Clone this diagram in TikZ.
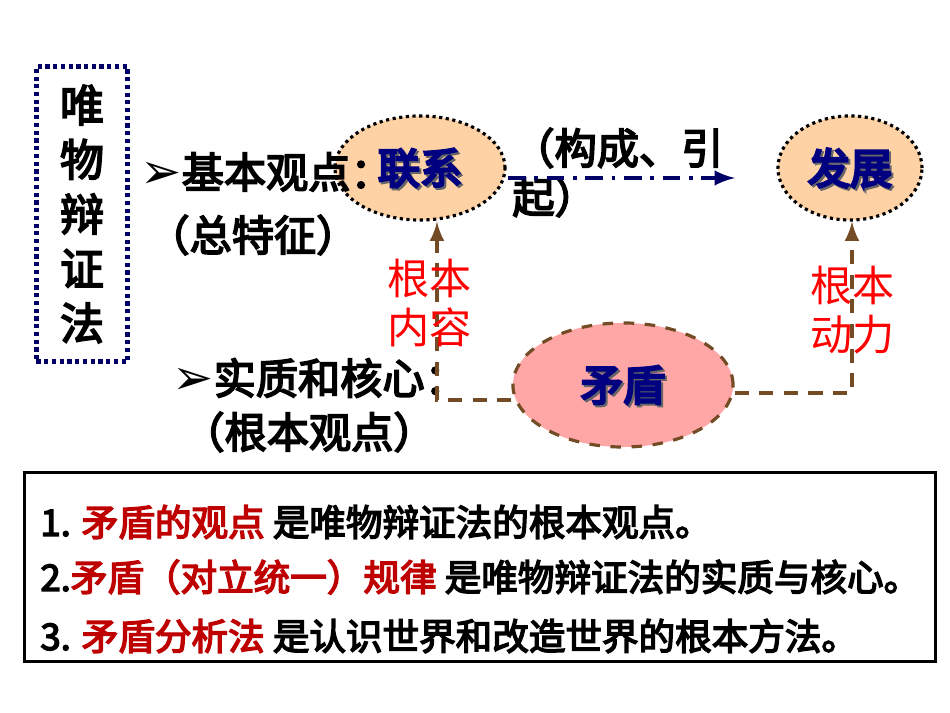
\documentclass[tikz,border=0pt]{standalone}
\usepackage{fontspec}
\setmainfont{Noto Sans CJK SC}
\newfontfamily\cjkb[FakeBold=4]{Noto Sans CJK SC}
\newfontfamily\cjkbb[FakeBold=6]{Noto Sans CJK SC}
\newfontfamily\dvs{DejaVu Sans}
\begin{document}
\begin{tikzpicture}[x=0.01cm,y=-0.01cm,
  peach/.style={ellipse,draw=black,densely dotted,line width=0.9pt,fill=orange!35!white},
  lbl/.style={font=\cjkbb\fontsize{12}{12}\selectfont,text=blue!50!black},
  blk/.style={font=\cjkb\fontsize{12}{13}\selectfont,anchor=west},
  red/.style={font=\fontsize{12}{14}\selectfont,text=red,align=center},
  brown/.style={draw=brown!60!black,dashed,line width=0.9pt,dash pattern=on 4pt off 3pt},
  bot/.style={font=\cjkb\fontsize{10.4}{11}\selectfont,anchor=west}]
\usetikzlibrary{shapes.geometric}
\useasboundingbox (0,0) rectangle (950,713);
\fill[white] (0,0) rectangle (950,713);
\node[draw=blue!40!black,densely dotted,line width=1.2pt,minimum width=0.91cm,minimum height=2.95cm,
  font=\cjkb\fontsize{12.5}{15.5}\selectfont,align=center] (title) at (82,214) {唯\\物\\辩\\证\\法};
\node[peach,minimum width=1.7cm,minimum height=1.04cm] (lx) at (420,168) {};
\node[lbl,text=black!60] at ([shift={(2,2)}]lx) {联系};
\node[lbl] at (lx) {联系};
\node[blk] (p1) at (128,172) {{\dvs\fontsize{14}{14}\selectfont ➢}基本观点：};
\node[blk] (p1b) at (135,235) {（总特征）};
\node[blk] (p2) at (160,378) {{\dvs\fontsize{14}{14}\selectfont ➢}实质和核心：};
\node[blk] (p2b) at (170,432) {（根本观点）};
\node[peach,minimum width=1.44cm,minimum height=1.04cm] (fz) at (850,168) {};
\node[lbl,text=black!60] at ([shift={(2,2)}]fz) {发展};
\node[lbl] at (fz) {发展};
\node[ellipse,draw=brown!60!black,dashed,line width=0.9pt,fill=red!35!white,minimum width=2.2cm,minimum height=1.24cm] (md) at (623,385) {};
\node[lbl,text=black!60] at ([shift={(2,2)}]md) {矛盾};
\node[lbl] at (md) {矛盾};
\node[blk] (gc1) at (500,148) {（构成、引};
\node[blk] (gc2) at (500,197) {起）};
\coordinate (a0) at (508,178);
\coordinate (a1) at (735,178);
\draw[blue!40!black,line width=1pt,dash pattern=on 5pt off 2.5pt on 1pt off 2.5pt,-latex] (a0) -- (a1);
\coordinate (l1) at (437,400);
\coordinate (r1) at (852,393);
\draw[brown,-latex] (md.west |- l1) -- (l1) -- (lx.south -| l1);
\draw[brown,-latex] (md.east |- r1) -- (r1) -- (fz.south -| r1);
\node[red] (t1) at (430,303) {根本\\内容};
\node[red] (t2) at (853,310) {根本\\动力};
\node[draw=black,line width=0.8pt,minimum width=9.1cm,minimum height=1.89cm] (box) at (480,567) {};
\node[bot] (b1) at (28,522) {1. {\color{red!75!black}矛盾的观点} 是唯物辩证法的根本观点。};
\node[bot] (b2) at (28,577) {2.{\color{red!75!black}矛盾（对立统一）规律} 是唯物辩证法的实质与核心。};
\node[bot] (b3) at (28,636) {3. {\color{red!75!black}矛盾分析法} 是认识世界和改造世界的根本方法。};
\end{tikzpicture}
\end{document}
